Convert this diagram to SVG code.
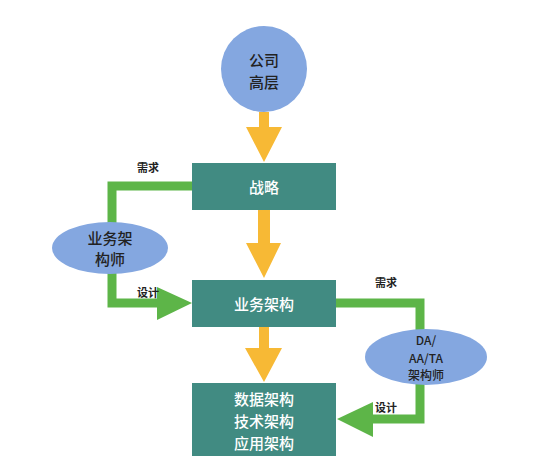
<svg xmlns="http://www.w3.org/2000/svg" width="547" height="469" viewBox="0 0 547 469">
<style>
.box{fill:#418b82}
.bt{fill:#ffffff;font-family:"Noto Sans CJK SC","Noto Sans",sans-serif;font-size:15px;font-weight:500;text-anchor:middle;dominant-baseline:central}
.bl{fill:#84a7e0}
.blt{fill:#222222;font-family:"Noto Sans CJK SC","Noto Sans",sans-serif;font-size:15px;font-weight:500;text-anchor:middle;dominant-baseline:central}
.sm{font-size:12px}
.yl{fill:#f7b935}
.gl{fill:none;stroke:#5db548;stroke-width:9}
.gh{fill:#5db548}
.lb{fill:#222222;font-family:"Noto Sans CJK SC","Noto Sans",sans-serif;font-size:11px;font-weight:bold;text-anchor:middle;dominant-baseline:central}
</style>
<rect width="547" height="469" fill="#ffffff"/>
<g id="connectors">
<polygon class="yl" points="259,112 269,112 269,127 282,127 264,162 246,127 259,127"/>
<polygon class="yl" points="258,210 270,210 270,243 281,243 264,278 246,243 258,243"/>
<polygon class="yl" points="259,327 269,327 269,348 282,348 264,382 245,348 259,348"/>
<polyline class="gl" points="192,186 112,186 112,303 158,303"/>
<polygon class="gh" points="157,287 192,303 157,320"/>
<polyline class="gl" points="336,303 420,303 420,419 372,419"/>
<polygon class="gh" points="373,402 337,419 373,437"/>
<text class="lb" x="148" y="167">需求</text>
<text class="lb" x="148" y="292">设计</text>
<text class="lb" x="386" y="282">需求</text>
<text class="lb" x="386" y="407">设计</text>
</g>
<g id="top">
<circle class="bl" cx="264" cy="69" r="43"/>
<text class="blt" x="264" y="59">公司</text>
<text class="blt" x="264" y="81">高层</text>
</g>
<g id="strategy">
<rect class="box" x="192" y="163" width="144" height="47"/>
<text class="bt" x="264" y="186">战略</text>
</g>
<g id="business">
<rect class="box" x="192" y="280" width="144" height="47"/>
<text class="bt" x="264" y="303">业务架构</text>
</g>
<g id="tech">
<rect class="box" x="192" y="383" width="144" height="73"/>
<text class="bt" x="264" y="398">数据架构</text>
<text class="bt" x="264" y="420">技术架构</text>
<text class="bt" x="264" y="442">应用架构</text>
</g>
<g id="ba">
<ellipse class="bl" cx="110" cy="248" rx="58" ry="26"/>
<text class="blt" x="110" y="237">业务架</text>
<text class="blt" x="110" y="258">构师</text>
</g>
<g id="arch">
<ellipse class="bl" cx="426" cy="357" rx="61" ry="28"/>
<text class="blt sm" x="426" y="339.5">DA/</text>
<text class="blt sm" x="426" y="357">AA/TA</text>
<text class="blt sm" x="426" y="374.5">架构师</text>
</g>
</svg>
